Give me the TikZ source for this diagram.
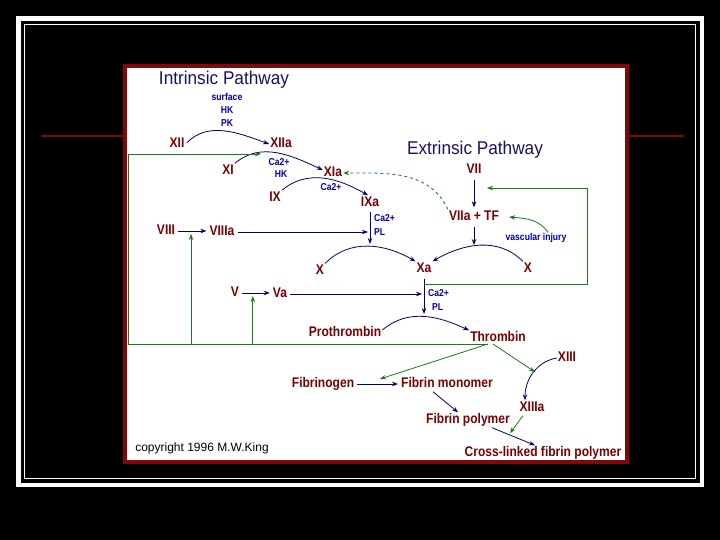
\documentclass[tikz,border=0pt]{standalone}
\usepackage{fontspec}
\setmainfont{Liberation Sans}
\newfontfamily\labfont{Liberation Sans}[FakeStretch=0.86]
\newfontfamily\headfont{Liberation Sans}[FakeStretch=0.93]
\usetikzlibrary{arrows.meta, calc}
\definecolor{slideRed}{RGB}{128,8,8}
\definecolor{facRed}{RGB}{120,0,0}
\definecolor{cofBlue}{RGB}{0,0,170}
\definecolor{ttlNavy}{RGB}{20,20,100}
\definecolor{arrNavy}{RGB}{0,0,110}
\definecolor{actGreen}{RGB}{30,120,30}

\begin{document}
\begin{tikzpicture}[x=1pt, y=-1pt,
  fac/.style={text=facRed, inner sep=1pt, text height=10pt, text depth=3pt,
    font=\labfont\bfseries\fontsize{14}{16}\selectfont},
  cof/.style={text=cofBlue, inner sep=1pt, text height=7pt, text depth=2pt,
    font=\labfont\bfseries\fontsize{10}{12}\selectfont},
  ttl/.style={text=ttlNavy, inner sep=0pt, font=\headfont\fontsize{18.5}{20}\selectfont},
  conv/.style={draw=arrNavy, line width=0.8pt, -{Stealth[length=6pt,width=4.5pt]}},
  act/.style={draw=actGreen, line width=0.8pt, -{Stealth[length=6pt,width=4.5pt]}},
]
  \fill[black] (0,0) rectangle (720,540);
  \draw[white, line width=4.5pt] (18.5,18.5) rectangle (702,485);
  \draw[white, line width=0.9pt] (24,24) rectangle (695,478);
  \draw[slideRed, line width=2pt] (41,136.5) -- (684,136.5);
  \draw[slideRed, fill=white, line width=4pt] (125,66) rectangle (627,462);

  \node[ttl] (intr) at (224,80) {Intrinsic Pathway};
  \node[cof] (surf) at (227,98) {surface};
  \node[cof] (hk1) at (227,111) {HK};
  \node[cof] (pk) at (227,124) {PK};
  \node[fac] (xii) at (177,144) {XII};
  \node[fac] (xiia) at (281,144) {XIIa};
  \node[fac] (xi) at (228,171) {XI};
  \node[fac] (xia) at (333,173) {XIa};
  \node[cof] (ca1) at (279,163) {Ca2+};
  \node[cof] (hk2) at (281,175) {HK};
  \node[fac] (ix) at (275,198) {IX};
  \node[fac] (ixa) at (370,203) {IXa};
  \node[cof] (ca2) at (331,188) {Ca2+};
  \node[ttl] (extr) at (475,150) {Extrinsic Pathway};
  \node[fac] (vii) at (474,170) {VII};
  \node[fac] (viiatf) at (474,217) {VIIa + TF};
  \node[cof] (vasc) at (536,238) {vascular injury};
  \node[fac] (viii) at (166,231) {VIII};
  \node[fac] (viiia) at (222,232) {VIIIa};
  \node[cof, anchor=west] (ca3) at (373,219) {Ca2+};
  \node[cof, anchor=west] (pl1) at (373,233) {PL};
  \node[fac] (xl) at (320,271) {X};
  \node[fac] (xa) at (424,269) {Xa};
  \node[fac] (xr) at (528,269) {X};
  \node[fac] (v) at (235,293) {V};
  \node[fac] (va) at (280,294) {Va};
  \node[cof, anchor=west] (ca4) at (427,294) {Ca2+};
  \node[cof, anchor=west] (pl2) at (431,308) {PL};
  \node[fac] (proth) at (345,333) {Prothrombin};
  \node[fac] (thromb) at (498,338) {Thrombin};
  \node[fac] (xiii) at (567,358) {XIII};
  \node[fac] (xiiia) at (532,408) {XIIIa};
  \node[fac] (fgen) at (323,384) {Fibrinogen};
  \node[fac] (fmono) at (447,384) {Fibrin monomer};
  \node[fac] (fpoly) at (468,420) {Fibrin polymer};
  \node[fac] (cross) at (543,453) {Cross-linked fibrin polymer};
  \node[inner sep=0pt, font=\fontsize{12}{14}\selectfont] (copy) at (202,448) {copyright 1996 M.W.King};

  \coordinate (apXL) at (370,247);
  \coordinate (apXR) at (474,249);
  \coordinate (apPT) at (424,317);
  \coordinate (k11) at (261,154);
  \coordinate (k13) at (535,372);
  \coordinate (thb) at (488,344);
  \coordinate (lpA) at (587,284);
  \coordinate (lpB) at (587,188);
  \coordinate (lpC) at (128,344);
  \coordinate (lpD) at (128,154);

  \draw[conv, shorten <=2pt] (xii.east) to[out=45,in=160] (xiia.west);
  \draw[conv] (xi.north east) to[out=40,in=155] ([yshift=3pt]xia.west);
  \draw[conv] (ix.north east) to[out=40,in=150] ([xshift=-2pt]ixa.north);
  \draw[conv] (xl.north east) to[out=45,in=150] (xa.north west);
  \draw[conv] (xr.north west) to[out=135,in=30] (xa.north east);
  \draw[conv] ([yshift=3pt]proth.east) to[out=40,in=155] (thromb.north west);
  \draw[conv] (xiii.west) to[out=190,in=90] ([xshift=-7pt]xiiia.north);

  \draw[conv, shorten <=2pt, shorten >=2pt] (viii.east) -- coordinate[pos=.46] (k8) (viii.east -| viiia.west);
  \draw[conv, shorten <=2pt, shorten >=2pt] (viiia.east) -- (viiia.east -| ixa);
  \draw[conv, shorten <=1pt, shorten >=3pt] (ixa.south) -- (apXL);
  \draw[conv, shorten <=2pt, shorten >=2pt] (vii.south) -- (viiatf.north);
  \draw[conv, shorten <=2pt, shorten >=4pt] (viiatf.south) -- (apXR);
  \draw[conv, shorten <=2pt, shorten >=2pt] (v.east) -- coordinate[pos=.4] (k5) (v.east -| va.west);
  \draw[conv, shorten <=2pt, shorten >=2pt] (va.east) -- (va.east -| xa);
  \draw[conv, shorten <=2pt, shorten >=3pt] (xa.south) -- (apPT);
  \draw[conv, shorten <=2pt, shorten >=2pt] (fgen.east) -- coordinate[pos=.55] (kf) (fmono.west);
  \draw[conv] ([xshift=-14pt]fmono.south) -- ([xshift=-10pt]fpoly.north);
  \draw[conv] ([xshift=24pt]fpoly.south) -- coordinate[pos=.42] (kx) ([xshift=-8pt]cross.north);

  \draw[act, dashed] (viiatf.north west) to[out=115,in=0] (xia.east);
  \draw[act] ([xshift=12pt]vasc.north) to[out=125,in=-5] ([xshift=9pt]viiatf.east);
  \draw[act] (xa |- lpA) -- (lpA) -- (lpB) -- ([xshift=13pt]lpB -| vii);
  \draw[act] (thb) -- (lpC) -- (lpD) -- (k11);
  \draw[act] (k8 |- thb) -- ([yshift=-3pt]k8);
  \draw[act] (k5 |- thb) -- ([yshift=-3pt]k5);
  \draw[act] (thb) -- ([yshift=5pt]kf);
  \draw[act] ([xshift=5pt]thb) -- (k13);
  \draw[act] ([xshift=-9pt]xiiia.south) -- ([yshift=2pt]kx);
\end{tikzpicture}
\end{document}
